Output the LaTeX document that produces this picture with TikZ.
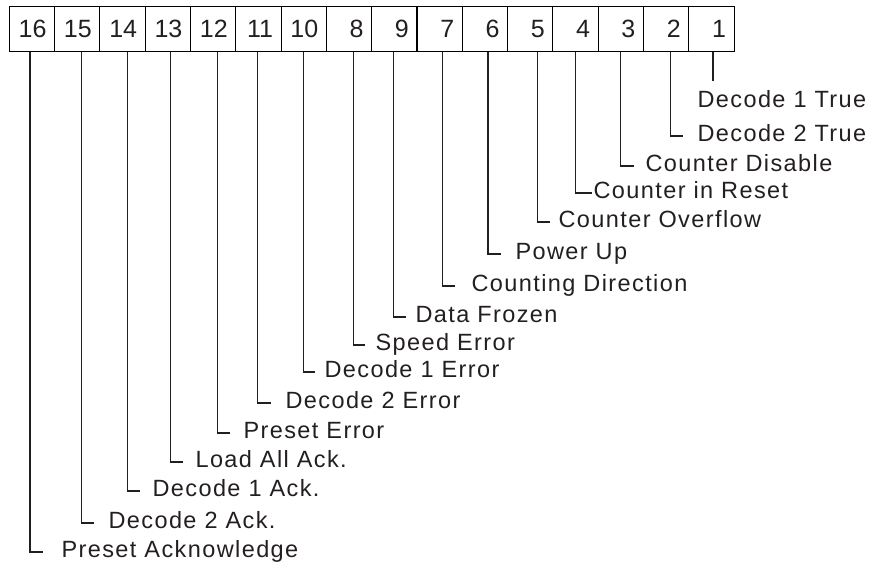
\documentclass[tikz,border=0pt]{standalone}
\usepackage{fontspec}
\setmainfont{Liberation Sans}
\newfontfamily\lblfont{Liberation Sans}[LetterSpace=6]
\usetikzlibrary{matrix}
\definecolor{ink}{RGB}{35,31,32}

\begin{document}
\begin{tikzpicture}[x=1pt, y=-1pt, line width=1.1pt, color=ink,
  lbl/.style={anchor=west, inner sep=0, text height=11pt, text depth=0pt,
    font=\lblfont\fontsize{23.5}{28}\selectfont}]

\useasboundingbox (0,0) rectangle (884,568);

\matrix (m) [matrix of nodes, anchor=north west, inner sep=0, outer sep=0,
column sep=-1.1pt, row sep=0,
nodes={draw, minimum width=45.3pt, minimum height=45.5pt, text width=29pt,
  align=right, inner xsep=8.15pt, inner ysep=0, outer sep=0,
  font=\fontsize{25}{30}\selectfont}] at (8.8,5.5) {
16 & 15 & 14 & 13 & 12 & 11 & 10 & 8 & 9 & 7 & 6 & 5 & 4 & 3 & 2 & 1\\
};

\node[lbl] (l16) at (697,101.5) {Decode 1 True};
\draw[shorten >=14pt] ([xshift=1.5pt]m-1-16.south) -- ([xshift=1.5pt]m-1-16.south |- l16.north);

\foreach \c/\x/\y/\dx/\gap/\txt in {
15/697/136/4/14/Decode 2 True,
14/645/166/0/11/Counter Disable,
13/593/193/-0.5/1/Counter in Reset,
12/558/222/7/8/Counter Overflow,
11/515/254/3/14/Power Up,
10/471/286/2.5/16/Counting Direction,
9/415/317/-1/9/Data Frozen,
8/375/345/4/10/Speed Error,
7/324/372/0/9/Decode 1 Error,
6/285/403/-1/14/Decode 2 Error,
5/243/433/4/13/Preset Error,
4/195/462/3/12/Load All Ack.,
3/152/491/4.5/12/Decode 1 Ack.,
2/108/523/4/14/Decode 2 Ack.,
1/61/552/-2/18/Preset Acknowledge} {
\node[lbl] (l\c) at (\x,\y) {\txt};
\draw ([xshift=\dx pt]m-1-\c.south) |- ([xshift=-\gap pt]l\c.west);
}

\end{tikzpicture}
\end{document}
